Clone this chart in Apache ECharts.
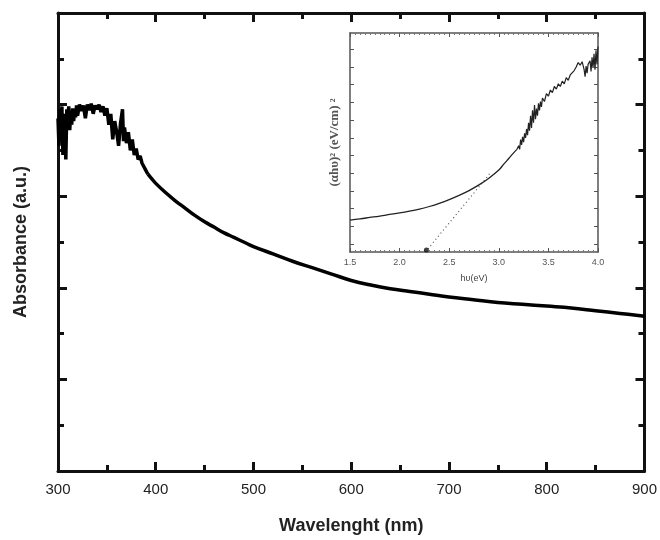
<!DOCTYPE html>
<html>
<head>
<meta charset="utf-8">
<script src="https://cdn.jsdelivr.net/npm/echarts@6/dist/echarts.min.js"></script>
<style>html,body{margin:0;padding:0;background:#fff}#c{width:660px;height:540px}</style>
</head>
<body>
<div id="c"></div>
<script>
// Main plot: absorbance vs wavelength
const wavelength = [300,301,302,303,304,305,306,307,308,309,310,311,312,313,314,315,316,317,318,319,320,322,324,326,328,330,332,334,336,338,340,342,344,346,348,350,352,354,356,358,360,362,364,366,367,368,370,372,374,376,378,380,382,384,386,388,390,392,396,400,410,420,430,440,450,460,470,480,490,500,520,540,560,580,600,620,640,660,680,700,725,750,775,800,825,850,875,900];
const absorbance = [3.85,3.55,3.95,3.70,3.98,3.45,3.90,3.75,3.40,3.95,3.80,3.98,3.72,3.90,3.78,3.96,3.82,3.92,3.86,3.99,3.88,4.00,3.93,3.99,3.85,4.00,3.94,4.01,3.90,3.99,3.95,4.00,3.92,3.98,3.88,3.96,3.78,3.90,3.62,3.82,3.70,3.55,3.80,3.95,3.60,3.75,3.58,3.70,3.50,3.62,3.45,3.52,3.40,3.44,3.36,3.34,3.28,3.24,3.19,3.14,3.04,2.95,2.87,2.79,2.72,2.66,2.60,2.55,2.50,2.45,2.37,2.29,2.22,2.15,2.08,2.03,1.99,1.96,1.93,1.90,1.87,1.84,1.82,1.80,1.78,1.75,1.72,1.69];

// Inset: Tauc plot
const photonEnergy = [1.5,1.6,1.7,1.8,1.9,2.0,2.1,2.2,2.3,2.4,2.5,2.6,2.7,2.8,2.9,3.0,3.05,3.1,3.15,3.18,3.20,3.21,3.22,3.23,3.24,3.25,3.26,3.27,3.28,3.29,3.30,3.31,3.32,3.33,3.34,3.35,3.36,3.37,3.38,3.39,3.40,3.41,3.42,3.43,3.44,3.46,3.48,3.50,3.52,3.54,3.56,3.58,3.60,3.62,3.64,3.66,3.68,3.70,3.72,3.74,3.76,3.78,3.80,3.82,3.84,3.86,3.87,3.88,3.89,3.90,3.92,3.93,3.94,3.95,3.96,3.97,3.98,3.99,4.00];
const taucValue = [1.80,1.87,1.95,2.03,2.12,2.21,2.31,2.42,2.57,2.75,2.96,3.20,3.47,3.79,4.17,4.63,4.96,5.28,5.60,5.78,6.00,5.80,6.35,6.05,6.50,6.20,6.70,6.45,6.95,6.60,7.30,6.85,7.70,7.00,8.00,7.30,8.30,7.50,8.10,7.70,8.40,8.00,8.50,8.20,8.70,8.50,8.95,8.80,9.15,9.00,9.35,9.20,9.50,9.35,9.65,9.50,9.85,9.70,10.00,9.90,10.25,10.45,10.70,10.55,10.75,10.30,9.90,10.50,10.10,10.60,10.80,10.20,11.00,10.40,11.20,10.30,11.40,10.60,11.60];
const fitEnergy = [2.26, 2.92];
const fitValue = [0.0, 4.5];
const gapEnergy = [2.27];
const gapValue = [0.12];

const mainXTicks = ['300','400','500','600','700','800','900'];
const insetXTicks = ['1.5','2.0','2.5','3.0','3.5','4.0'];
const insetYTickValues = [0.45,1.45,2.45,3.45,4.45,5.45,6.45,7.45,8.45,9.45,10.45,11.45];

const zip = (a, b) => a.map((v, i) => [v, b[i]]);
const mainPts = zip(wavelength, absorbance);
const mainSplit = wavelength.indexOf(392);
const taucPts = zip(photonEnergy, taucValue);
const taucSplit = photonEnergy.indexOf(3.18);

const chart = echarts.init(document.getElementById('c'), null, {renderer: 'canvas'});

const mainAxisLine = {show: true, onZero: false, lineStyle: {color: '#111', width: 3}};
const insetAxisLine = {show: true, onZero: false, lineStyle: {color: '#555', width: 1.5}};

chart.setOption({
  backgroundColor: '#fff',
  animation: false,
  grid: [
    {left: 58, top: 13, right: 15, bottom: 68},
    {left: 350, top: 33, width: 248, height: 219, show: true, backgroundColor: '#fff', borderWidth: 0}
  ],
  xAxis: [
    {
      gridIndex: 0, type: 'value', min: 300, max: 900, interval: 100, position: 'bottom',
      name: 'Wavelenght (nm)', nameLocation: 'middle', nameGap: 46,
      nameTextStyle: {fontFamily: 'Liberation Sans', fontWeight: 'bold', fontSize: 18, color: '#222'},
      axisLine: mainAxisLine,
      axisTick: {show: true, inside: true, length: 9, lineStyle: {width: 3, color: '#111'}},
      minorTick: {show: true, splitNumber: 2, length: 6, lineStyle: {width: 3, color: '#111'}},
      splitLine: {show: false},
      axisLabel: {fontFamily: 'Liberation Sans', fontSize: 15, color: '#222', margin: 11,
        formatter: v => mainXTicks[Math.round((v - 300) / 100)]}
    },
    {
      gridIndex: 0, type: 'value', min: 300, max: 900, interval: 100, position: 'top',
      axisLine: mainAxisLine,
      axisTick: {show: true, inside: true, length: 9, lineStyle: {width: 3, color: '#111'}},
      minorTick: {show: true, splitNumber: 2, length: 6, lineStyle: {width: 3, color: '#111'}},
      splitLine: {show: false}, axisLabel: {show: false}
    },
    {
      gridIndex: 1, type: 'value', min: 1.5, max: 4.0, interval: 0.5, position: 'bottom',
      name: 'h\u03c5(eV)', nameLocation: 'middle', nameGap: 22,
      nameTextStyle: {fontFamily: 'Liberation Sans', fontSize: 9, color: '#444'},
      axisLine: insetAxisLine,
      axisTick: {show: true, inside: true, length: 4, lineStyle: {width: 1, color: '#555'}},
      minorTick: {show: true, splitNumber: 10, length: 2, lineStyle: {width: 1, color: '#777'}},
      splitLine: {show: false},
      axisLabel: {fontFamily: 'Liberation Sans', fontSize: 9, color: '#555', margin: 6,
        formatter: v => insetXTicks[Math.round((v - 1.5) / 0.5)]}
    },
    {
      gridIndex: 1, type: 'value', min: 1.5, max: 4.0, interval: 0.5, position: 'top',
      axisLine: insetAxisLine,
      axisTick: {show: true, inside: true, length: 4, lineStyle: {width: 1, color: '#555'}},
      minorTick: {show: true, splitNumber: 10, length: 2, lineStyle: {width: 1, color: '#777'}},
      splitLine: {show: false}, axisLabel: {show: false}
    }
  ],
  yAxis: [
    {
      gridIndex: 0, type: 'value', min: 0, max: 5, interval: 1, position: 'left',
      name: 'Absorbance (a.u.)', nameLocation: 'middle', nameGap: 28,
      nameTextStyle: {fontFamily: 'Liberation Sans', fontWeight: 'bold', fontSize: 18, color: '#222'},
      axisLine: mainAxisLine,
      axisTick: {show: true, inside: true, length: 9, lineStyle: {width: 3, color: '#111'}},
      minorTick: {show: true, splitNumber: 2, length: 6, lineStyle: {width: 3, color: '#111'}},
      splitLine: {show: false}, axisLabel: {show: false}
    },
    {
      gridIndex: 0, type: 'value', min: 0, max: 5, interval: 1, position: 'right',
      axisLine: mainAxisLine,
      axisTick: {show: true, inside: true, length: 9, lineStyle: {width: 3, color: '#111'}},
      minorTick: {show: true, splitNumber: 2, length: 6, lineStyle: {width: 3, color: '#111'}},
      splitLine: {show: false}, axisLabel: {show: false}
    },
    {
      gridIndex: 1, type: 'value', min: 0, max: 12.37, position: 'left',
      name: '(\u03b1h\u03c5)\u00b2 (eV/cm) \u00b2', nameLocation: 'middle', nameGap: 9,
      nameTextStyle: {fontFamily: 'Liberation Serif', fontWeight: 'bold', fontSize: 13, color: '#555'},
      axisLine: insetAxisLine,
      axisTick: {show: true, inside: true, length: 4, customValues: insetYTickValues, lineStyle: {width: 1, color: '#555'}},
      splitLine: {show: false}, axisLabel: {show: false}
    },
    {
      gridIndex: 1, type: 'value', min: 0, max: 12.37, position: 'right',
      axisLine: insetAxisLine,
      axisTick: {show: true, inside: true, length: 4, customValues: insetYTickValues, lineStyle: {width: 1, color: '#555'}},
      splitLine: {show: false}, axisLabel: {show: false}
    }
  ],
  series: [
    {
      type: 'line', xAxisIndex: 0, yAxisIndex: 0, data: mainPts.slice(0, mainSplit + 1),
      showSymbol: false, symbol: 'none', lineStyle: {color: '#000', width: 3.5}, z: 5
    },
    {
      type: 'line', xAxisIndex: 0, yAxisIndex: 0, data: mainPts.slice(mainSplit),
      smooth: 0.4, showSymbol: false, symbol: 'none', lineStyle: {color: '#000', width: 3.5}, z: 5
    },
    {
      type: 'line', xAxisIndex: 2, yAxisIndex: 2, data: taucPts.slice(0, taucSplit + 1),
      smooth: 0.4, showSymbol: false, symbol: 'none', lineStyle: {color: '#222', width: 1.3}, z: 5
    },
    {
      type: 'line', xAxisIndex: 2, yAxisIndex: 2, data: taucPts.slice(taucSplit),
      showSymbol: false, symbol: 'none', lineStyle: {color: '#222', width: 1.2}, z: 5
    },
    {
      type: 'line', xAxisIndex: 2, yAxisIndex: 2, data: zip(fitEnergy, fitValue),
      showSymbol: false, symbol: 'none', lineStyle: {color: '#555', width: 1.2, type: [1, 3]}, z: 4
    },
    {
      type: 'scatter', xAxisIndex: 2, yAxisIndex: 2, data: zip(gapEnergy, gapValue),
      symbol: 'circle', symbolSize: 5, itemStyle: {color: '#111'}, z: 6
    }
  ]
});
</script>
</body>
</html>
